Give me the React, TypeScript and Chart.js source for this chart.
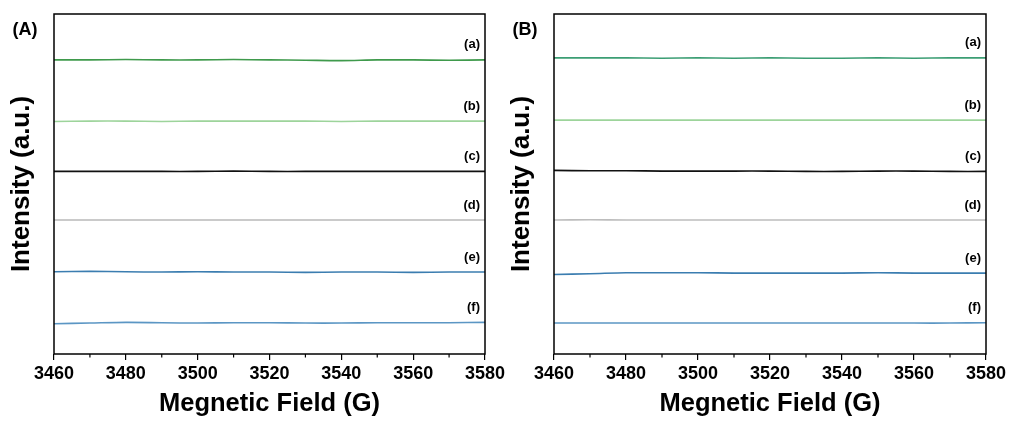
import React, { useEffect, useRef } from "react";
import { Chart, registerables } from "chart.js";

Chart.register(...registerables);

const fieldValues = [3460, 3470, 3480, 3490, 3500, 3510, 3520, 3530, 3540, 3550, 3560, 3570, 3580];
const xTickLabels = [3460, 3480, 3500, 3520, 3540, 3560, 3580];
const curveLabels = ["(a)", "(b)", "(c)", "(d)", "(e)", "(f)"];

// Panel A series
const panelA_a = [86.5, 86.5, 86.6, 86.5, 86.5, 86.6, 86.5, 86.4, 86.3, 86.5, 86.5, 86.4, 86.5];
const panelA_b = [68.4, 68.5, 68.5, 68.4, 68.5, 68.5, 68.5, 68.5, 68.4, 68.5, 68.5, 68.5, 68.5];
const panelA_c = [53.7, 53.7, 53.7, 53.7, 53.7, 53.8, 53.7, 53.7, 53.7, 53.7, 53.7, 53.7, 53.7];
const panelA_d = [39.4, 39.4, 39.4, 39.4, 39.4, 39.4, 39.4, 39.4, 39.4, 39.4, 39.4, 39.4, 39.4];
const panelA_e = [24.2, 24.3, 24.2, 24.1, 24.2, 24.1, 24.1, 24.0, 24.1, 24.1, 24.0, 24.1, 24.1];
const panelA_f = [8.9, 9.1, 9.3, 9.2, 9.1, 9.2, 9.2, 9.1, 9.1, 9.2, 9.2, 9.2, 9.3];

// Panel B series
const panelB_a = [87.1, 87.1, 87.1, 87.0, 87.1, 87.0, 87.1, 87.0, 87.0, 87.1, 87.0, 87.1, 87.1];
const panelB_b = [68.8, 68.8, 68.8, 68.8, 68.8, 68.8, 68.8, 68.8, 68.8, 68.8, 68.8, 68.8, 68.8];
const panelB_c = [54.0, 53.9, 53.9, 53.8, 53.8, 53.8, 53.8, 53.7, 53.7, 53.8, 53.8, 53.7, 53.7];
const panelB_d = [39.4, 39.5, 39.4, 39.4, 39.4, 39.4, 39.4, 39.4, 39.4, 39.4, 39.4, 39.4, 39.4];
const panelB_e = [23.4, 23.6, 23.9, 23.9, 23.9, 23.8, 23.8, 23.8, 23.8, 23.9, 23.8, 23.8, 23.8];
const panelB_f = [9.1, 9.1, 9.1, 9.1, 9.1, 9.1, 9.1, 9.1, 9.1, 9.1, 9.1, 9.1, 9.2];

const colorsA = ["#3f9a4c", "#9dd49b", "#111111", "#b9b9b9", "#3b7db0", "#5b96c4"];
const colorsB = ["#3c9e74", "#9dd49b", "#111111", "#bdbdbd", "#3b7db0", "#5b96c4"];

const FONT = "'Liberation Sans', Arial, sans-serif";

type PanelProps = {
  letter: string;
  series: number[][];
  colors: string[];
  padLeft: number;
  padRight: number;
  yTitleX: number;
};

function Panel({ letter, series, colors, padLeft, padRight, yTitleX }: PanelProps) {
  const ref = useRef<HTMLCanvasElement | null>(null);
  useEffect(() => {
    if (!ref.current) return;
    const decor = {
      id: "decor",
      afterDraw(chart: any) {
        const ctx = chart.ctx;
        const a = chart.chartArea;
        const xs = chart.scales.x;
        const ys = chart.scales.y;
        ctx.save();
        // frame
        ctx.strokeStyle = "#000";
        ctx.lineWidth = 1.5;
        ctx.strokeRect(a.left, a.top, a.right - a.left, a.bottom - a.top);
        // minor ticks
        ctx.lineWidth = 1.2;
        for (let v = 3470; v < 3580; v += 20) {
          const px = xs.getPixelForValue(v);
          ctx.beginPath();
          ctx.moveTo(px, a.bottom);
          ctx.lineTo(px, a.bottom + 3.5);
          ctx.stroke();
        }
        // curve labels
        ctx.fillStyle = "#000";
        ctx.font = `bold 13px ${FONT}`;
        ctx.textAlign = "right";
        ctx.textBaseline = "middle";
        series.forEach((s, i) => {
          const py = ys.getPixelForValue(s[s.length - 1]);
          ctx.fillText(curveLabels[i], a.right - 5, py - 15);
        });
        // panel letter
        ctx.font = `bold 18px ${FONT}`;
        ctx.textAlign = "center";
        ctx.fillText(letter, yTitleX + 3, 30);
        // x title
        ctx.font = `bold 25.5px ${FONT}`;
        ctx.fillText("Megnetic Field (G)", (a.left + a.right) / 2, 404);
        // y title
        ctx.font = `bold 26px ${FONT}`;
        ctx.translate(yTitleX, (a.top + a.bottom) / 2);
        ctx.rotate(-Math.PI / 2);
        ctx.fillText("Intensity (a.u.)", 0, 0);
        ctx.restore();
      },
    };
    const chart = new Chart(ref.current, {
      type: "line",
      data: {
        datasets: series.map((s, i) => ({
          label: curveLabels[i],
          data: s.map((y, j) => ({ x: fieldValues[j], y })),
          borderColor: colors[i],
          borderWidth: 1.6,
          pointRadius: 0,
          tension: 0.3,
          fill: false,
        })),
      },
      options: {
        animation: false,
        responsive: false,
        layout: { padding: { left: padLeft, right: padRight, top: 14, bottom: 0 } },
        plugins: { legend: { display: false }, tooltip: { enabled: false } },
        scales: {
          x: {
            type: "linear",
            min: 3460,
            max: 3580,
            afterFit: (s: any) => {
              s.height = 67;
              s.paddingLeft = 0;
              s.paddingRight = 0;
            },
            afterBuildTicks: (s: any) => {
              s.ticks = xTickLabels.map((v) => ({ value: v }));
            },
            ticks: {
              color: "#000",
              font: { family: FONT, size: 18, weight: "bold" },
              padding: 3,
              maxRotation: 0,
              autoSkip: false,
              callback: (v: any) => String(v),
            },
            grid: {
              drawOnChartArea: false,
              drawTicks: true,
              tickLength: 6,
              color: "#000",
              lineWidth: 1.2,
            },
            border: { display: false },
          },
          y: {
            display: false,
            min: 0,
            max: 100,
          },
        },
      },
      plugins: [decor],
    });
    return () => chart.destroy();
  }, []);
  return <canvas ref={ref} width={506} height={421} style={{ display: "block", width: 506, height: 421 }} />;
}

export default function App() {
  return (
    <div style={{ position: "fixed", left: 0, top: 0, width: 1012, height: 421, background: "#fff", display: "flex" }}>
      <Panel
        letter="(A)"
        series={[panelA_a, panelA_b, panelA_c, panelA_d, panelA_e, panelA_f]}
        colors={colorsA}
        padLeft={54}
        padRight={21}
        yTitleX={22}
      />
      <Panel
        letter="(B)"
        series={[panelB_a, panelB_b, panelB_c, panelB_d, panelB_e, panelB_f]}
        colors={colorsB}
        padLeft={48}
        padRight={26}
        yTitleX={16}
      />
    </div>
  );
}
